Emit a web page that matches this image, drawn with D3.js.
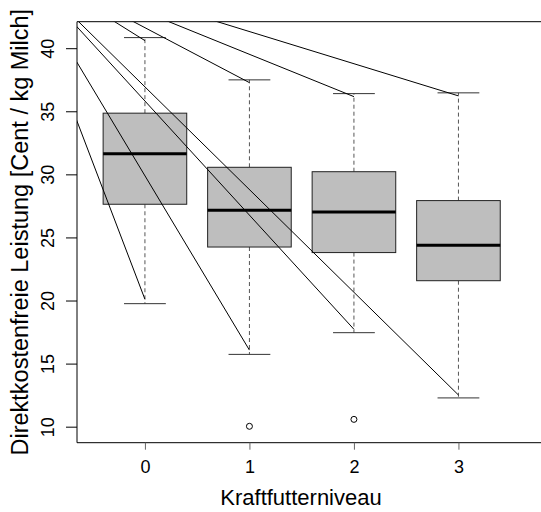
<!DOCTYPE html>
<html>
<head>
<meta charset="utf-8">
<script src="https://cdn.jsdelivr.net/npm/d3@7"></script>
<style>
  body { margin: 0; background: #fff; }
  svg { display: block; font-family: "Liberation Sans", Arial, sans-serif; }
</style>
</head>
<body>
<div id="chart"></div>
<script>
// Boxplot values per Kraftfutterniveau
const levels = [0, 1, 2, 3];
const whiskerLow = [19.75, 15.73, 17.45, 12.28];
const q1 = [27.63, 24.24, 23.80, 21.57];
const median = [31.64, 27.15, 27.02, 24.38];
const q3 = [34.85, 30.56, 30.21, 27.92];
const whiskerHigh = [40.84, 37.49, 36.40, 36.46];

// outliers
const outlierLevel = [1, 2];
const outlierValue = [10.03, 10.58];

// pointer lines: all start from one point outside the plot, end near whisker ends
const pointerFrom = [-1.24, 47.03];
const pointerToHigh = [40.6, 37.27, 36.16, 36.22];
const pointerToLow = [20.1, 16.07, 17.72, 12.51];

const yTicks = [10, 15, 20, 25, 30, 35, 40];

const width = 541, height = 512;
const plotLeft = 77, plotRight = 541, plotTop = 21.7, plotBottom = 442.7;

const x = d3.scaleLinear().domain([-0.65, 3.79]).range([plotLeft, plotRight]);
const y = d3.scaleLinear().domain([8.73, 42.1]).range([plotBottom, plotTop]);

const svg = d3.select("#chart").append("svg")
    .attr("width", width)
    .attr("height", height);

svg.append("clipPath").attr("id", "plotclip")
  .append("rect")
    .attr("x", plotLeft).attr("y", plotTop)
    .attr("width", plotRight - plotLeft).attr("height", plotBottom - plotTop);

const boxHalf = 0.4, capHalf = 0.2;

// whiskers (dashed)
const wk = svg.append("g").attr("stroke", "#555").attr("stroke-dasharray", "4,3");
wk.selectAll(".wup").data(levels).join("line")
    .attr("x1", d => x(d)).attr("x2", d => x(d))
    .attr("y1", (d, i) => y(q3[i])).attr("y2", (d, i) => y(whiskerHigh[i]));
wk.selectAll(".wdn").data(levels).join("line")
    .attr("x1", d => x(d)).attr("x2", d => x(d))
    .attr("y1", (d, i) => y(q1[i])).attr("y2", (d, i) => y(whiskerLow[i]));

// caps
const caps = svg.append("g").attr("stroke", "#333");
caps.selectAll(".chi").data(levels).join("line")
    .attr("x1", d => x(d - capHalf)).attr("x2", d => x(d + capHalf))
    .attr("y1", (d, i) => y(whiskerHigh[i])).attr("y2", (d, i) => y(whiskerHigh[i]));
caps.selectAll(".clo").data(levels).join("line")
    .attr("x1", d => x(d - capHalf)).attr("x2", d => x(d + capHalf))
    .attr("y1", (d, i) => y(whiskerLow[i])).attr("y2", (d, i) => y(whiskerLow[i]));

// boxes
svg.append("g").selectAll("rect").data(levels).join("rect")
    .attr("x", d => x(d - boxHalf))
    .attr("width", d => x(d + boxHalf) - x(d - boxHalf))
    .attr("y", (d, i) => y(q3[i]))
    .attr("height", (d, i) => y(q1[i]) - y(q3[i]))
    .attr("fill", "#bebebe")
    .attr("stroke", "#222")
    .attr("stroke-width", 1);

// medians
svg.append("g").selectAll("line").data(levels).join("line")
    .attr("x1", d => x(d - boxHalf)).attr("x2", d => x(d + boxHalf))
    .attr("y1", (d, i) => y(median[i])).attr("y2", (d, i) => y(median[i]))
    .attr("stroke", "#000")
    .attr("stroke-width", 3);

// outliers
svg.append("g").selectAll("circle").data(outlierLevel).join("circle")
    .attr("cx", d => x(d))
    .attr("cy", (d, i) => y(outlierValue[i]))
    .attr("r", 3)
    .attr("fill", "none")
    .attr("stroke", "#000");

// pointer lines, clipped to the plot region
const ptr = svg.append("g").attr("clip-path", "url(#plotclip)")
    .attr("stroke", "#000").attr("stroke-width", 1);
ptr.selectAll(".phi").data(levels).join("line")
    .attr("x1", x(pointerFrom[0])).attr("y1", y(pointerFrom[1]))
    .attr("x2", d => x(d)).attr("y2", (d, i) => y(pointerToHigh[i]));
ptr.selectAll(".plo").data(levels).join("line")
    .attr("x1", x(pointerFrom[0])).attr("y1", y(pointerFrom[1]))
    .attr("x2", d => x(d)).attr("y2", (d, i) => y(pointerToLow[i]));

// frame (right side lies outside the picture)
svg.append("path")
    .attr("d", `M${plotRight + 5},${plotTop}H${plotLeft}V${plotBottom}H${plotRight + 5}`)
    .attr("fill", "none")
    .attr("stroke", "#000");

// y axis
const yAxis = svg.append("g")
    .attr("transform", `translate(${plotLeft},0)`)
    .call(d3.axisLeft(y).tickValues(yTicks).tickSize(11).tickFormat(d3.format("d")));
yAxis.select(".domain").remove();
yAxis.selectAll("text")
    .attr("x", null).attr("dy", null)
    .attr("text-anchor", "middle")
    .attr("transform", "translate(-23,0) rotate(-90)")
    .attr("fill", "#000")
    .style("font-size", "18px")
    .style("font-family", "'Liberation Sans', Arial, sans-serif");

// x axis
const xAxis = svg.append("g")
    .attr("transform", `translate(0,${plotBottom})`)
    .call(d3.axisBottom(x).tickValues(levels).tickSize(7).tickFormat(d3.format("d")));
xAxis.select(".domain").remove();
xAxis.selectAll("line").attr("stroke", "#666");
xAxis.selectAll("text")
    .attr("y", 30.5).attr("dy", null)
    .attr("fill", "#000")
    .style("font-size", "18px")
    .style("font-family", "'Liberation Sans', Arial, sans-serif");

// titles
svg.append("text")
    .attr("x", 301).attr("y", 505)
    .attr("text-anchor", "middle")
    .style("font-size", "22px")
    .text("Kraftfutterniveau");

svg.append("text")
    .attr("transform", `translate(28,${(plotTop + plotBottom) / 2}) rotate(-90)`)
    .attr("text-anchor", "middle")
    .style("font-size", "23.5px")
    .text("Direktkostenfreie Leistung [Cent / kg Milch]");
</script>
</body>
</html>
